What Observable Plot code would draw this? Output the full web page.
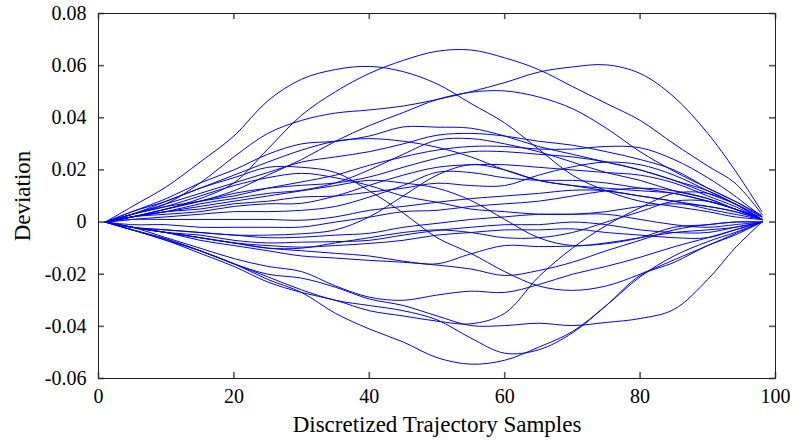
<!DOCTYPE html>
<html><head><meta charset="utf-8">
<script src="https://cdn.jsdelivr.net/npm/d3@7"></script>
<script src="https://cdn.jsdelivr.net/npm/@observablehq/plot@0.6"></script>
<style>body{margin:0;background:#fff;} svg{display:block}</style>
</head><body><div id="chart"></div>
<script>
// sample positions (shared grid)
const samples = [1,5,10,15,20,25,30,35,40,45,50,55,60,65,70,75,80,85,90,94,98];

// deviation series (one array per trajectory)
const runC1 = [0,0.006,0.0135,0.023,0.033,0.0465,0.0548,0.0585,0.0597,0.0577,0.053,0.0455,0.038,0.028,0.018,0.012,0.008,0.006,0.004,0.002,0.001];
const runC2 = [0,0.002,0.005,0.009,0.015,0.028,0.041,0.050,0.057,0.062,0.0655,0.066,0.063,0.0585,0.052,0.0455,0.039,0.030,0.0215,0.015,0.003];
const runC3 = [0,0.003,0.007,0.015,0.025,0.034,0.039,0.0418,0.043,0.0445,0.047,0.050,0.0535,0.0575,0.0595,0.0603,0.057,0.048,0.034,0.0199,0.004];
const runD  = [0,0.002,0.005,0.008,0.012,0.018,0.024,0.031,0.037,0.042,0.047,0.0498,0.0503,0.048,0.0435,0.036,0.027,0.0195,0.013,0.008,0.0026];
const runL1 = [0,-0.003,-0.007,-0.011,-0.016,-0.022,-0.027,-0.035,-0.041,-0.046,-0.052,-0.0545,-0.053,-0.048,-0.042,-0.032,-0.021,-0.013,-0.0075,-0.004,0];
const runL2 = [0,-0.003,-0.0065,-0.011,-0.016,-0.021,-0.026,-0.030,-0.032,-0.034,-0.0375,-0.0445,-0.0503,-0.049,-0.0425,-0.032,-0.0205,-0.0155,-0.009,-0.005,0];
const runL3 = [0,-0.003,-0.0065,-0.011,-0.016,-0.020,-0.0215,-0.025,-0.0295,-0.032,-0.036,-0.0397,-0.0397,-0.0388,-0.0397,-0.0385,-0.037,-0.0335,-0.022,-0.010,0];
const runL4 = [0,-0.003,-0.007,-0.012,-0.017,-0.023,-0.027,-0.030,-0.034,-0.036,-0.038,-0.039,-0.035,-0.021,-0.010,-0.0013,0.0055,0.011,0.011,0.007,0.001];
const runL5 = [0,-0.002,-0.006,-0.010,-0.014,-0.017,-0.019,-0.0245,-0.0288,-0.030,-0.028,-0.0265,-0.027,-0.024,-0.020,-0.017,-0.0135,-0.0095,-0.006,-0.003,0];
const runL6 = [0,0.004,0.008,0.013,0.017,0.021,0.021,0.019,0.012,0.0035,-0.006,-0.012,-0.019,-0.0245,-0.0262,-0.0245,-0.020,-0.0145,-0.009,-0.0045,0];
const runL7 = [0,-0.002,-0.004,-0.007,-0.009,-0.011,-0.013,-0.0138,-0.0147,-0.0154,-0.0165,-0.018,-0.0205,-0.0186,-0.0154,-0.011,-0.007,-0.003,-0.001,0,0];
const runL8 = [0,-0.002,-0.004,-0.006,-0.008,-0.010,-0.011,-0.012,-0.013,-0.015,-0.016,-0.0122,-0.009,-0.0094,-0.0092,-0.0083,-0.006,-0.002,-0.001,0,0];
const runM1 = [0,0.004,0.009,0.015,0.020,0.026,0.030,0.031,0.033,0.0365,0.0364,0.036,0.033,0.029,0.026,0.023,0.020,0.016,0.011,0.007,0.002];
const runM2 = [0,0.003,0.008,0.013,0.018,0.023,0.0276,0.031,0.032,0.031,0.0287,0.025,0.020,0.016,0.014,0.013,0.012,0.011,0.008,0.005,0.001];
const runM3 = [0,0.003,0.007,0.011,0.015,0.019,0.023,0.025,0.027,0.030,0.0333,0.034,0.033,0.031,0.0295,0.027,0.024,0.020,0.013,0.008,0.002];
const runM4 = [0,0.003,0.006,0.010,0.014,0.017,0.0187,0.017,0.014,0.010,0.0076,0.005,0.004,0.003,0.003,0.004,0.006,0.007,0.006,0.004,0.001];
const runM5 = [0,0.002,0.005,0.008,0.010,0.013,0.0154,0.018,0.0218,0.025,0.0276,0.029,0.029,0.028,0.028,0.029,0.0285,0.024,0.017,0.010,0.002];
const runM6 = [0,0.003,0.006,0.008,0.011,0.013,0.0141,0.015,0.0173,0.021,0.0245,0.027,0.027,0.026,0.025,0.023,0.020,0.016,0.012,0.007,0.001];
const runM7 = [0,0.002,0.004,0.007,0.009,0.011,0.0122,0.015,0.020,0.026,0.0314,0.032,0.030,0.027,0.023,0.019,0.016,0.012,0.009,0.005,0.002];
const runM8 = [0,0.002,0.004,0.005,0.007,0.008,0.0096,0.010,0.0115,0.013,0.0149,0.014,0.014,0.018,0.0212,0.023,0.022,0.018,0.012,0.007,0.001];
const runM9 = [0,0.002,0.003,0.004,0.006,0.007,0.0072,0.010,0.0141,0.018,0.021,0.022,0.022,0.021,0.020,0.019,0.018,0.015,0.010,0.006,0.001];
const runM10 = [0,0.001,0.002,0.003,0.004,0.004,0.0045,0.006,0.0096,0.014,0.0191,0.019,0.017,0.016,0.016,0.015,0.013,0.011,0.008,0.005,0.001];
const runM11 = [0,0.002,0.004,0.006,0.008,0.010,0.012,0.014,0.016,0.015,0.013,0.0083,0.001,-0.006,-0.009,-0.008,-0.006,-0.004,-0.003,-0.002,0];
const runM12 = [0,0.001,0.001,0.001,0.001,0.001,0.0007,0.002,0.0045,0.006,0.0076,0.009,0.010,0.011,0.0122,0.012,0.010,0.008,0.005,0.003,0.001];
const runN1 = [0,-0.001,-0.001,-0.002,-0.002,-0.002,-0.0019,0,0.0019,0.004,0.0045,0.006,0.007,0.008,0.010,0.012,0.013,0.012,0.009,0.005,0.001];
const runN2 = [0,-0.002,-0.003,-0.004,-0.005,-0.005,-0.0045,-0.003,0.002,0.010,0.018,0.022,0.020,0.016,0.014,0.012,0.010,0.008,0.006,0.004,0.001];
const runN3 = [0,-0.002,-0.003,-0.004,-0.005,-0.006,-0.0058,-0.005,-0.0043,-0.002,-0.0005,0.001,0.002,0.003,0.003,0.003,0.001,-0.001,-0.002,-0.001,0];
const runN4 = [0,-0.002,-0.004,-0.005,-0.007,-0.008,-0.0077,-0.0075,-0.007,-0.005,-0.0032,-0.002,-0.001,-0.001,0,-0.001,-0.003,-0.004,-0.004,-0.002,0];
const runN5 = [0,-0.002,-0.004,-0.006,-0.008,-0.009,-0.0096,-0.009,-0.0082,-0.007,-0.005,-0.004,-0.003,-0.003,-0.0026,-0.004,-0.005,-0.006,-0.006,-0.003,0];
const runN6 = [0,-0.002,-0.004,-0.006,-0.008,-0.010,-0.010,-0.008,-0.006,-0.004,-0.003,-0.004,-0.006,-0.006,-0.004,0,0.004,0.008,0.008,0.005,0.001];

// ticks
const xTicks = [0,20,40,60,80,100];
const xTickLabels = ["0","20","40","60","80","100"];
const yTicks = [-0.06,-0.04,-0.02,0,0.02,0.04,0.06,0.08];
const yTickLabels = ["-0.06","-0.04","-0.02","0","0.02","0.04","0.06","0.08"];
const xTitle = "Discretized Trajectory Samples";
const yTitle = "Deviation";

const runs = [runC1,runC2,runC3,runD,runL1,runL2,runL3,runL4,runL5,runL6,runL7,runL8,
  runM1,runM2,runM3,runM4,runM5,runM6,runM7,runM8,runM9,runM10,runM11,runM12,
  runN1,runN2,runN3,runN4,runN5,runN6];
const rows = runs.flatMap((ys, k) => ys.map((y, i) => ({run: k, sample: samples[i], deviation: y})));

const fmtX = d => xTickLabels[xTicks.indexOf(d)];
const fmtY = d => yTickLabels[yTicks.findIndex(t => Math.abs(t - d) < 1e-9)];

// layout
const W = 793, H = 440, mL = 98, mR = 18, mT = 13, mB = 62;
const frameW = W - mL - mR, frameH = H - mT - mB;
const tickLen = 6, tickColor = "#555";

const chart = Plot.plot({
  width: W, height: H,
  marginLeft: mL, marginRight: mR, marginTop: mT, marginBottom: mB,
  style: {fontFamily: "'Liberation Serif', 'Times New Roman', serif", fontSize: "20px", background: "#fff", color: "#000", overflow: "visible"},
  x: {domain: [0, 100], axis: null},
  y: {domain: [-0.06, 0.08], axis: null},
  marks: [
    Plot.line(rows, {x: "sample", y: "deviation", z: "run", stroke: "#0000ff", strokeWidth: 1, curve: "catmull-rom", clip: true}),
    // inward tick marks on all four sides
    Plot.tickX(xTicks, {x: d => d, insetTop: frameH - tickLen, stroke: tickColor, strokeWidth: 1.6}),
    Plot.tickX(xTicks, {x: d => d, insetBottom: frameH - tickLen, stroke: tickColor, strokeWidth: 1.6}),
    Plot.tickY(yTicks, {y: d => d, insetRight: frameW - tickLen, stroke: tickColor, strokeWidth: 1.6}),
    Plot.tickY(yTicks, {y: d => d, insetLeft: frameW - tickLen, stroke: tickColor, strokeWidth: 1.6}),
    // tick labels
    Plot.axisX({ticks: xTicks, anchor: "bottom", tickSize: 0, tickPadding: 10, tickFormat: fmtX, label: null, fontSize: 20}),
    Plot.axisY({ticks: yTicks, anchor: "left", tickSize: 0, tickPadding: 12, tickFormat: fmtY, label: null, fontSize: 20}),
    Plot.frame({stroke: "#222", strokeWidth: 1}),
    Plot.text([xTitle], {frameAnchor: "bottom", dy: 46, text: d => d, fontSize: 23, textAnchor: "middle", lineAnchor: "middle", letterSpacing: "0.4px"}),
    Plot.text([yTitle], {frameAnchor: "left", dx: -76, rotate: -90, text: d => d, fontSize: 23, textAnchor: "middle", lineAnchor: "middle", letterSpacing: "0.5px"})
  ]
});
document.getElementById("chart").append(chart);
</script>
</body></html>
